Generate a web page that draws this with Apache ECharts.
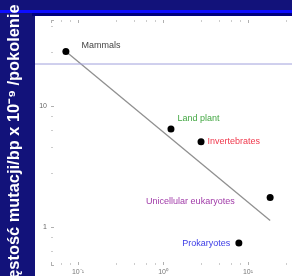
<!DOCTYPE html>
<html>
<head>
<meta charset="utf-8">
<script src="https://cdn.jsdelivr.net/npm/echarts@6/dist/echarts.min.js"></script>
<style>
  html, body { margin: 0; padding: 0; background: #12127a; }
  #chart { width: 292px; height: 276px; }
</style>
</head>
<body>
<div id="chart"></div>
<script>
// groups and their values (x on the log axis, mutation rate on y)
const groups = ['Mammals', 'Land plant', 'Invertebrates', 'Unicellular eukaryotes', 'Prokaryotes'];
const xValues = [0.072, 1.24, 2.8, 18.2, 7.8];
const rates = [28.4, 6.5, 5.1, 1.76, 0.74];

// trend line end points
const fitX = [0.072, 18.2];
const fitY = [28.4, 1.14];

// tick labels of the bottom axis, by power of ten
const xTickLabels = { '-1': '10⁻¹', '0': '10⁰', '1': '10¹', '2': '10²' };
const yTitle = 'Gęstość mutacji/bp x 10⁻⁹ /pokolenie';

const labelColors = ['#444', '#44a844', '#f0384c', '#a03aa8', '#3c3ce6'];
const labelPlace = [
  { position: 'right', distance: 12, offset: [0, -6] },
  { position: 'right', distance: 3, offset: [0, -10] },
  { position: 'right', distance: 3, offset: [0, 0] },
  { position: 'left', distance: 32, offset: [0, 4] },
  { position: 'left', distance: 5, offset: [0, 0] }
];

let chart = echarts.init(document.getElementById('chart'), null, { renderer: 'canvas' });

let points = groups.map(function (g, i) {
  return {
    name: g,
    value: [xValues[i], rates[i]],
    label: {
      show: true,
      formatter: '{b}',
      color: labelColors[i],
      fontSize: 9,
      fontFamily: 'Liberation Sans, Arial, sans-serif',
      position: labelPlace[i].position,
      distance: labelPlace[i].distance,
      offset: labelPlace[i].offset
    }
  };
});

const xMin = 0.0481, xMax = 32.9;
const yMin = 0.488, yMax = 51.7;
const gray = '#b0b0b0';

chart.setOption({
  backgroundColor: '#12127a',
  animation: false,
  graphic: [
    { type: 'rect', shape: { x: 0, y: 10, width: 292, height: 3 }, style: { fill: '#0d0dff' }, z: 0 },
    { type: 'rect', shape: { x: 32, y: 13, width: 260, height: 3 }, style: { fill: '#00007e' }, z: 0 },
    { type: 'rect', shape: { x: 35, y: 16, width: 257, height: 260 }, style: { fill: '#ffffff' }, z: 0 },
    { type: 'line', shape: { x1: 35, y1: 64, x2: 292, y2: 64 }, style: { stroke: '#a0a0dc', lineWidth: 1 }, z: 100 },
    {
      type: 'text', x: 14, y: 148, rotation: Math.PI / 2,
      style: {
        text: yTitle, fill: '#ffffff', fontSize: 16.4, fontWeight: 'bold',
        fontFamily: 'Liberation Sans, Arial, sans-serif',
        align: 'center', verticalAlign: 'middle'
      },
      z: 100
    }
  ],
  grid: { left: 51, top: 20, right: 0, bottom: 9, show: true, borderColor: gray, borderWidth: 1, backgroundColor: 'transparent' },
  xAxis: [{
    type: 'log', min: xMin, max: xMax,
    axisLine: { show: false },
    axisTick: { inside: true, length: 3, lineStyle: { color: gray } },
    minorTick: { show: true, splitNumber: 5, length: 2, lineStyle: { color: '#cccccc' } },
    splitLine: { show: false },
    axisLabel: {
      showMinLabel: false, showMaxLabel: false,
      color: '#777', fontSize: 7, margin: 4,
      formatter: function (v) { return xTickLabels[String(Math.round(Math.log10(v)))] || ''; }
    }
  }, {
    type: 'log', position: 'top', min: xMin, max: xMax,
    axisLine: { show: false },
    axisTick: { inside: true, length: 3, lineStyle: { color: gray } },
    minorTick: { show: true, splitNumber: 5, length: 2, lineStyle: { color: '#cccccc' } },
    splitLine: { show: false },
    axisLabel: { show: false }
  }],
  yAxis: {
    type: 'log', min: yMin, max: yMax,
    axisLine: { show: false },
    axisTick: { inside: true, length: 3, lineStyle: { color: gray } },
    minorTick: { show: true, splitNumber: 5, length: 2, lineStyle: { color: '#cccccc' } },
    splitLine: { show: false },
    axisLabel: { showMinLabel: false, showMaxLabel: false, color: '#666', fontSize: 7, margin: 4 }
  },
  series: [{
    type: 'line',
    data: fitX.map(function (x, i) { return [x, fitY[i]]; }),
    symbol: 'none',
    lineStyle: { color: '#909090', width: 1.3 },
    z: 2
  }, {
    type: 'scatter',
    data: points,
    symbolSize: 7,
    itemStyle: { color: '#000000', opacity: 1 },
    z: 3
  }]
});
</script>
</body>
</html>
